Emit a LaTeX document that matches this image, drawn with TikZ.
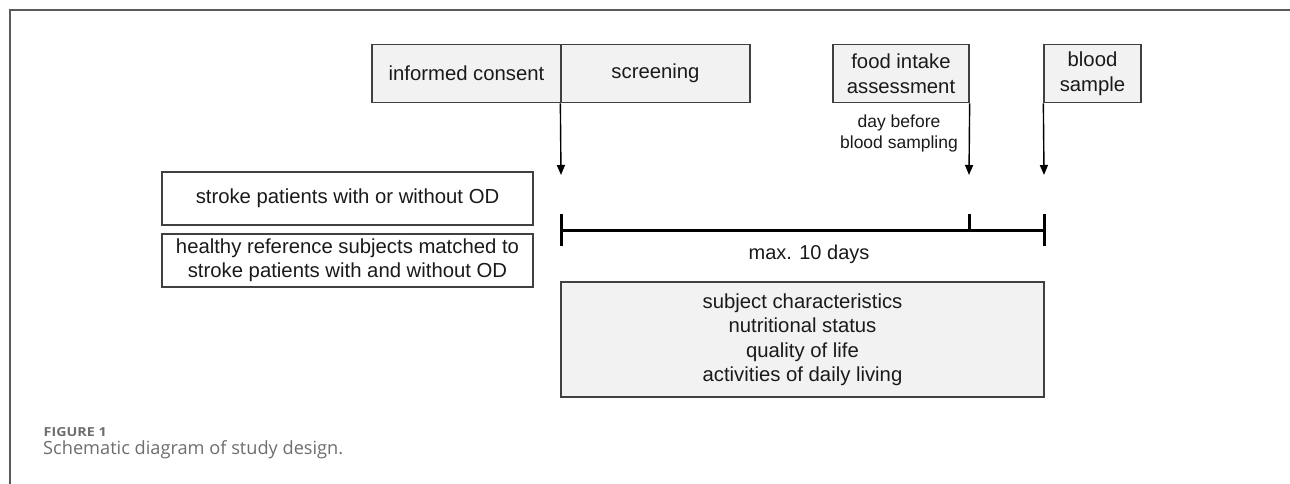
\documentclass[tikz,border=0pt]{standalone}
\usepackage{fontspec}
\setmainfont{Liberation Sans}
\newfontfamily\capfont{Open Sans}
\usetikzlibrary{arrows.meta}
\definecolor{boxfill}{HTML}{F2F2F2}
\definecolor{boxline}{HTML}{404040}
\definecolor{framegray}{HTML}{5A5A5A}
\definecolor{capgray}{HTML}{6E6E6E}
\definecolor{txt}{HTML}{1A1A1A}
\tikzset{
  gbox/.style={draw=boxline, fill=boxfill, line width=1.3pt, inner sep=0pt, align=center,
    text=txt, font={\fontsize{20.3}{24.5}\selectfont}},
  wbox/.style={gbox, fill=white},
  tarrow/.style={draw=black, line width=1.4pt, -{Triangle[length=10pt,width=8pt]}},
  tline/.style={draw=black, line width=3.8pt},
  tick/.style={draw=black, line width=3pt},
  plain/.style={text=txt, inner sep=0pt, align=center},
}
\begin{document}
\begin{tikzpicture}[x=1pt,y=-1pt]
\useasboundingbox (0,0) rectangle (1290,484);
\fill[white] (0,0) rectangle (1290,484);
\draw[framegray, line width=1.5pt] (10,484) -- (10,10) -- (1290,10);

% top boxes
\node[gbox, minimum width=189pt, minimum height=58pt] (consent) at (466.5,73.7) {informed consent};
\node[gbox, minimum width=189pt, minimum height=58pt] (screen) at (655.5,73.7) {screening};
\node[gbox, minimum width=136pt, minimum height=58pt] (food) at (901,73.7) {food intake\\assessment};
\node[gbox, minimum width=97pt, minimum height=58pt] (blood) at (1092.5,73.7) {blood\\sample};

\node[plain, font={\fontsize{17.5}{21}\selectfont}] (daybefore) at (899,133) {day before\\blood sampling};

% left boxes
\node[wbox, minimum width=371pt, minimum height=53pt] (stroke) at (347.5,198.5) {stroke patients with or without OD};
\node[wbox, minimum width=371pt, minimum height=53pt] (healthy) at (347.5,260.5) {healthy reference subjects matched to\\stroke patients with and without OD};

% arrow targets
\coordinate (a1) at (561,175);
\coordinate (a2) at (969,175);
\coordinate (a3) at (1044,175);
\draw[tarrow] (screen.south west) -- (a1);
\draw[tarrow] (food.south east) -- (a2);
\draw[tarrow] (blood.south west) -- (a3);

% timeline
\coordinate (t0) at (561,230.5);
\coordinate (t1) at (969,230.5);
\coordinate (t2) at (1044,230.5);
\coordinate (t0a) at (561,214);
\coordinate (t0b) at (561,246);
\coordinate (t1a) at (969,214);
\coordinate (t2a) at (1044,214);
\coordinate (t2b) at (1044,246);
\draw[tline] (t0) -- (t2);
\draw[tick] (t0a) -- (t0b);
\draw[tick] (t1a) -- (t1);
\draw[tick] (t2a) -- (t2b);
\node[plain, font={\fontsize{20}{24}\selectfont}] (maxdays) at (809,254) {max. 10 days};

% bottom box
\node[gbox, minimum width=483pt, minimum height=115pt] (chars) at (802.5,339.5)
  {subject characteristics\\nutritional status\\quality of life\\activities of daily living};

% caption
\node[anchor=base west, inner sep=0pt, text=capgray] (figlab) at (43.5,436.5)
  {\resizebox{63pt}{9pt}{\capfont\bfseries FIGURE 1}};
\node[anchor=base west, inner sep=0pt, text=capgray] (figcap) at (43,454.5)
  {\resizebox{300pt}{!}{\capfont\fontsize{17}{20}\selectfont Schematic diagram of study design.}};
\end{tikzpicture}
\end{document}
